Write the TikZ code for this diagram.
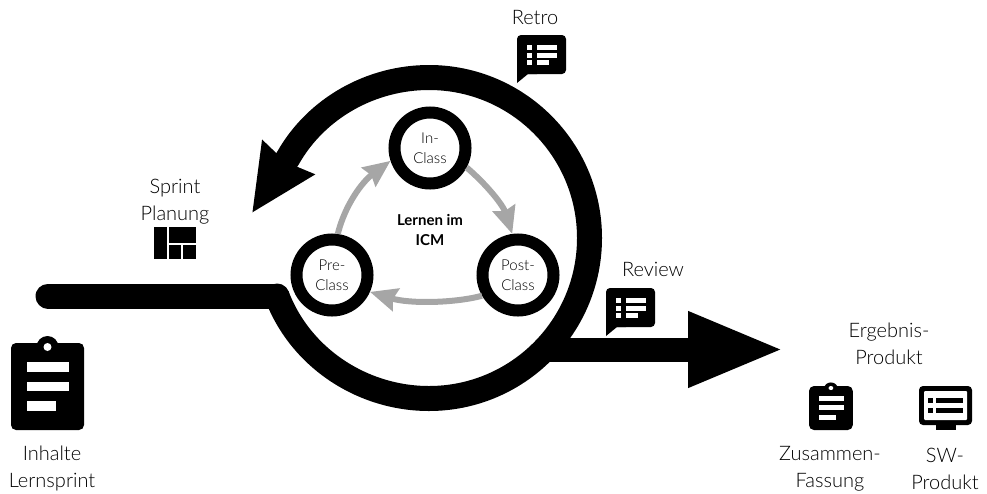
\documentclass[tikz,border=0pt]{standalone}
\usepackage{fontspec}
\setmainfont[BoldFont={Lato Bold}]{Lato Light}
\usetikzlibrary{arrows.meta}
\colorlet{greycol}{black!35}
\tikzset{label/.style={inner sep=0pt,align=center,font=\fontsize{20}{27}\selectfont}}
\tikzset{phase/.style={circle,draw,fill=white,line width=12pt,minimum size=71pt,inner sep=0pt,align=center,font=\fontsize{15}{20}\selectfont}}
\tikzset{cyclearrow/.style={draw=greycol,line width=6pt,-{Stealth[length=27pt,width=23pt,inset=3pt]}}}
\tikzset{loopline/.style={line width=25pt,line cap=round}}
\tikzset{clipboard/.pic={
    \fill[rounded corners=5pt] (0,0) rectangle (73,87);
    \fill (36.5,4) circle (11);
    \fill[white] (36.5,4) circle (4);
    \fill[white] (16,19) rectangle (57.5,29);
    \fill[white] (16,38.5) rectangle (57.5,48);
    \fill[white] (16,58) rectangle (45,68);
}}
\tikzset{chat/.pic={
    \fill[rounded corners=4pt] (0,39) -- (0,0) -- (49,0) -- (49,39) -- (11,39);
    \fill (0,20) -- (0,48) -- (11,39) -- (20,39) -- cycle;
    \foreach \row in {10,17.5,25} {
        \fill[white] (10,\row) rectangle (15,\row+5);
    }
    \fill[white] (20,10) rectangle (40,15);
    \fill[white] (20,17.5) rectangle (40,22.5);
    \fill[white] (20,25) rectangle (32,30);
}}
\begin{document}
\begin{tikzpicture}[x=1pt,y=-1pt]
    \useasboundingbox (0,0) rectangle (987,493);

    % loop and result arrow
    \coordinate (lineStart) at (48,296);
    \coordinate (kink) at (277,296);
    \coordinate (loopBottom) at (429,398.5);
    \coordinate (loopRight) at (589.5,238);
    \coordinate (loopTop) at (429,77.5);
    \coordinate (headBase) at (288,158);
    \coordinate (loopEnd) at (252,213);
    \coordinate (outStart) at (548,349.5);
    \coordinate (outEnd) at (785,349.5);
    \draw[-{Triangle[length=97pt,width=69pt]},line width=24pt] (outStart) -- (outEnd);
    \draw[loopline] (lineStart) -- (kink);
    \draw[line width=25pt,line cap=round,-{Stealth[length=65pt,width=59pt,inset=4pt]}] (kink)
        .. controls (300.7,358.1) and (362.5,398.5) .. (loopBottom)
        .. controls (517.6,398.5) and (589.5,326.6) .. (loopRight)
        .. controls (589.5,149.4) and (517.6,77.5) .. (loopTop)
        .. controls (371.3,77.5) and (316.5,107.8) .. (headBase) -- (loopEnd);

    % cycle
    \node[phase] (in) at (430,148) {In-\\Class};
    \node[phase] (pre) at (332,275) {Pre-\\Class};
    \node[phase] (post) at (518,275) {Post-\\Class};
    \node[inner sep=0pt,align=center,font=\fontsize{15}{20}\bfseries\selectfont] (lernen) at (430,230) {Lernen im\\ICM};
    \draw[cyclearrow] (pre.82) .. controls (345,205) and (362,182) .. (in.198);
    \draw[cyclearrow] (in.-28) .. controls (487,185) and (503,205) .. (post.98);
    \draw[cyclearrow] (post.210) .. controls (455,303) and (410,304) .. (pre.-24);

    % labels
    \node[label] (retro) at (535,18) {Retro};
    \node[label] (sprint) at (175,202) {Sprint\\Planung};
    \node[label] (inhalte) at (52,468) {Inhalte\\Lernsprint};
    \node[label] (review) at (653,269) {Review};
    \node[label] (ergebnis) at (889,344) {Ergebnis-\\Produkt};
    \node[label] (zusammen) at (830,469) {Zusammen-\\Fassung};
    \node[label] (sw) at (945,469) {SW-\\Produkt};

    % icons
    \pic at (11,343) {clipboard};
    \pic[xscale=0.6,yscale=0.506] at (809,386) {clipboard};
    \pic at (517,35) {chat};
    \pic at (606,288) {chat};

    % board
    \fill (154,227) rectangle (166.5,259);
    \fill (168.5,227) rectangle (196,243);
    \fill (168.5,245) rectangle (181,259);
    \fill (183,245) rectangle (196,259);

    % monitor
    \fill[rounded corners=4pt] (919,386) rectangle (972,425);
    \fill (936,424) rectangle (956,430);
    \fill[white,rounded corners=1pt] (924,391) rectangle (967,420);
    \fill (928,398) rectangle (933,403);
    \fill (928,408) rectangle (933,413);
    \fill (936,398) rectangle (963,403);
    \fill (936,408) rectangle (963,413);
\end{tikzpicture}
\end{document}
